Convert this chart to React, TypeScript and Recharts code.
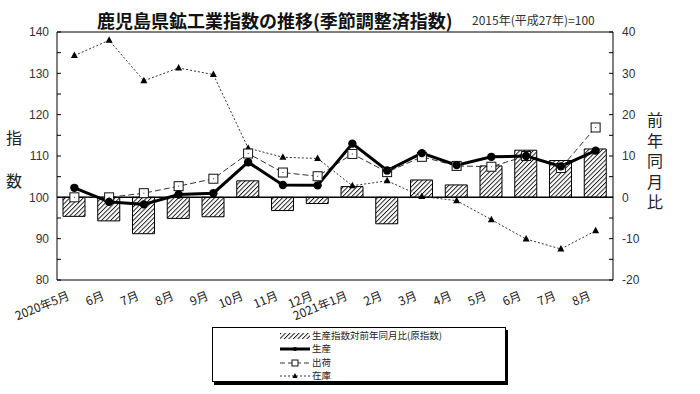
import { Bar, ComposedChart, Legend, Line, ReferenceLine, XAxis, YAxis } from 'recharts';

const months = ['2020年5月', '6月', '7月', '8月', '9月', '10月', '11月', '12月', '2021年1月', '2月', '3月', '4月', '5月', '6月', '7月', '8月'];
const production = [102.3, 98.9, 98.3, 100.7, 101.0, 108.5, 103.0, 102.9, 113.0, 106.5, 110.7, 107.8, 109.8, 110.0, 107.5, 111.3];
const shipments = [100.0, 100.0, 101.0, 102.7, 104.5, 110.6, 106.0, 105.1, 110.5, 106.1, 109.8, 107.6, 107.4, 110.0, 107.1, 116.9];
const inventory = [134.3, 138.0, 128.2, 131.3, 129.7, 111.9, 109.7, 109.4, 102.8, 104.0, 100.2, 99.2, 94.6, 89.9, 87.5, 91.9];
const yoy = [-4.6, -5.7, -8.8, -5.1, -4.7, 4.0, -3.2, -1.5, 2.6, -6.4, 4.2, 3.0, 7.6, 11.4, 8.9, 11.7];
const leftTicks = [80, 85, 90, 95, 100, 105, 110, 115, 120, 125, 130, 135, 140];
const rightTicks = [-20, -15, -10, -5, 0, 5, 10, 15, 20, 25, 30, 35, 40];
const leftTitle = ['指', '数'];
const rightTitle = '前年同月比';

const data = months.map((m, i) => ({
  month: m,
  production: production[i],
  shipments: shipments[i],
  inventory: inventory[i],
  yoy: yoy[i],
}));

const jp = '"Noto Sans CJK JP", sans-serif';
const num = '"Liberation Sans", Arial, sans-serif';

const MonthTick = (props: any) => {
  const { x, y, payload } = props;
  return (
    <text x={x - 4} y={y + 11} transform={`rotate(-22 ${x - 4} ${y + 11})`} textAnchor="end" fontSize={12} fill="#222" fontFamily={jp}>
      {payload.value}
    </text>
  );
};

const CircleDot = (props: any) => {
  const { cx, cy, index } = props;
  return <circle key={`c${index}`} cx={cx} cy={cy} r={4.2} fill="#000" />;
};

const SquareDot = (props: any) => {
  const { cx, cy, index } = props;
  return (
    <g key={`s${index}`}>
      <rect x={cx - 4.5} y={cy - 4.5} width={9} height={9} fill="#fff" stroke="#111" strokeWidth={1} />
      <rect x={cx - 0.5} y={cy - 0.5} width={1} height={1} fill="#333" />
    </g>
  );
};

const TriDot = (props: any) => {
  const { cx, cy, index } = props;
  return <polygon key={`t${index}`} points={`${cx},${cy - 4} ${cx - 3.5},${cy + 2.5} ${cx + 3.5},${cy + 2.5}`} fill="#000" />;
};

function LegendBox() {
  const rows = [8, 21, 35, 48];
  const txt = { fontSize: 9.5, fontFamily: jp, fill: '#222' };
  return (
    <div style={{ width: 294, height: 55, border: '1px solid #000', boxShadow: '2px 3px 0 #000', background: '#fff', boxSizing: 'border-box' }}>
      <svg width={292} height={53} style={{ display: 'block', overflow: 'visible' }}>
        <rect x={67} y={rows[0] - 3} width={30} height={6} fill="url(#hatch)" />
        <text x={99} y={rows[0] + 3.3} {...txt}>生産指数対前年同月比(原指数)</text>
        <line x1={67} x2={97} y1={rows[1]} y2={rows[1]} stroke="#000" strokeWidth={3} />
        <circle cx={82} cy={rows[1]} r={2} fill="#000" />
        <text x={99} y={rows[1] + 3.3} {...txt}>生産</text>
        <line x1={67} x2={97} y1={rows[2]} y2={rows[2]} stroke="#333" strokeWidth={1} strokeDasharray="5 3" />
        <rect x={79} y={rows[2] - 3} width={6} height={6} fill="#fff" stroke="#111" />
        <text x={99} y={rows[2] + 3.3} {...txt}>出荷</text>
        <line x1={67} x2={97} y1={rows[3]} y2={rows[3]} stroke="#333" strokeWidth={1} strokeDasharray="2 2" />
        <polygon points={`82,${rows[3] - 3} 79.5,${rows[3] + 2} 84.5,${rows[3] + 2}`} fill="#000" />
        <text x={99} y={rows[3] + 3.3} {...txt}>在庫</text>
      </svg>
    </div>
  );
}

export default function App() {
  return (
    <div style={{ position: 'absolute', left: 0, top: 0, width: 700, height: 394, background: '#fff', fontFamily: jp }}>
      <div style={{ position: 'absolute', left: 97, top: 8, fontSize: 18, fontWeight: 700, color: '#111', whiteSpace: 'nowrap', lineHeight: '24px' }}>
        鹿児島県鉱工業指数の推移(季節調整済指数)
      </div>
      <div style={{ position: 'absolute', left: 472, top: 12, fontSize: 12, color: '#333', whiteSpace: 'nowrap', lineHeight: '16px' }}>
        2015年(平成27年)=100
      </div>
      {leftTitle.map((c, i) => (
        <div key={c} style={{ position: 'absolute', left: 6, top: 129 + i * 43, fontSize: 16, color: '#222', lineHeight: '16px' }}>{c}</div>
      ))}
      <div
        style={{
          position: 'absolute',
          left: 647,
          top: 112,
          fontSize: 16,
          color: '#222',
          lineHeight: '16px',
          writingMode: 'vertical-rl',
          letterSpacing: '4.5px',
          whiteSpace: 'nowrap',
        }}
      >
        {rightTitle}
      </div>
      <div style={{ position: 'absolute', left: 0, top: 0 }}>
        <ComposedChart width={700} height={394} data={data} margin={{ top: 32, right: 57, bottom: 74, left: 27 }}>
          <defs>
            <pattern id="hatch" width="3.2" height="3.2" patternUnits="userSpaceOnUse" patternTransform="rotate(45)">
              <rect width="3.2" height="3.2" fill="#fff" />
              <line x1="0" y1="0" x2="0" y2="3.2" stroke="#1a1a1a" strokeWidth="1.9" />
            </pattern>
          </defs>
          <XAxis dataKey="month" height={40} interval={0} tickLine={false} tick={<MonthTick />} stroke="#000" />
          <YAxis
            yAxisId="left"
            width={30}
            domain={[80, 140]}
            ticks={leftTicks}
            interval={0}
            tickFormatter={(v: number) => (v % 10 === 0 ? String(v) : '')}
            tickSize={-4}
            tickMargin={12}
            stroke="#000"
            tick={{ fontSize: 12, fill: '#333', fontFamily: num }}
          />
          <YAxis
            yAxisId="right"
            orientation="right"
            width={30}
            domain={[-20, 40]}
            ticks={rightTicks}
            interval={0}
            tickFormatter={(v: number) => (v % 10 === 0 ? String(v) : '')}
            tickSize={-4}
            tickMargin={13}
            stroke="#000"
            tick={{ fontSize: 12, fill: '#333', fontFamily: num }}
          />
          <ReferenceLine yAxisId="left" y={140} stroke="#000" />
          <Bar yAxisId="right" dataKey="yoy" barSize={22} fill="url(#hatch)" stroke="#000" strokeWidth={1} isAnimationActive={false} />
          <ReferenceLine yAxisId="left" y={100} stroke="#000" strokeWidth={1.5} />
          <Line yAxisId="left" dataKey="inventory" stroke="#333" strokeWidth={1} strokeDasharray="2 2" dot={<TriDot />} activeDot={false} isAnimationActive={false} />
          <Line yAxisId="left" dataKey="shipments" stroke="#333" strokeWidth={1} strokeDasharray="6 3" dot={<SquareDot />} activeDot={false} isAnimationActive={false} />
          <Line yAxisId="left" dataKey="production" stroke="#000" strokeWidth={3} dot={<CircleDot />} activeDot={false} isAnimationActive={false} />
          <Legend
            layout="vertical"
            align="center"
            verticalAlign="middle"
            content={() => <LegendBox />}
            wrapperStyle={{ left: 212, top: 327, width: 296, height: 57 }}
          />
        </ComposedChart>
      </div>
    </div>
  );
}
